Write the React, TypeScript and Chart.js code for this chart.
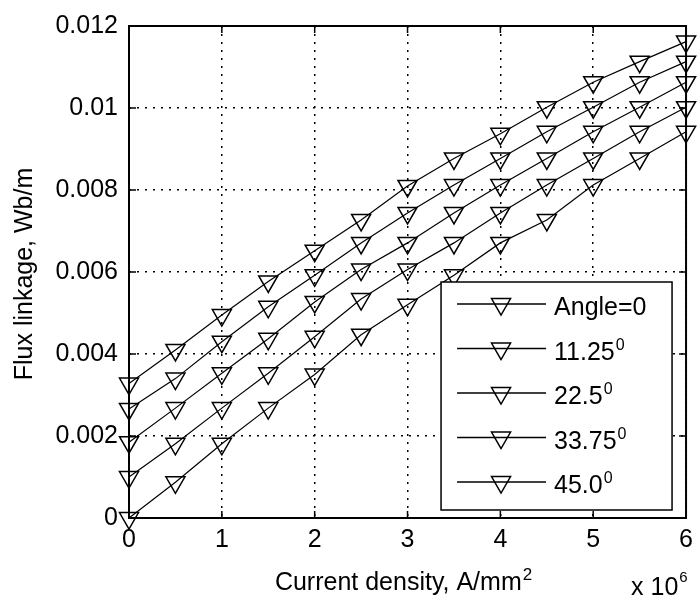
import React, { useEffect, useRef } from "react";
import { Chart, registerables } from "chart.js";

Chart.register(...registerables);

// Current density (x 10^6 A/mm^2)
const currentDensity = [0, 0.5, 1, 1.5, 2, 2.5, 3, 3.5, 4, 4.5, 5, 5.5, 6];

// Flux linkage (Wb/m) per rotor angle
const angle0 = [0.00328, 0.0041, 0.00495, 0.00577, 0.00652, 0.00727, 0.0081, 0.00877, 0.00937, 0.01002, 0.01063, 0.01113, 0.01162];
const angle11_25 = [0.00266, 0.0034, 0.0043, 0.00515, 0.00592, 0.00671, 0.00744, 0.00812, 0.00877, 0.00942, 0.01002, 0.01063, 0.01113];
const angle22_5 = [0.00185, 0.00268, 0.00353, 0.00437, 0.00527, 0.00606, 0.00671, 0.00744, 0.00812, 0.00877, 0.00942, 0.01002, 0.01063];
const angle33_75 = [0.001, 0.00181, 0.00268, 0.00353, 0.00442, 0.00534, 0.00606, 0.00671, 0.00744, 0.00812, 0.00877, 0.00942, 0.01002];
const angle45 = [0, 0.00087, 0.00181, 0.00268, 0.0035, 0.00447, 0.0052, 0.00592, 0.00671, 0.00727, 0.00812, 0.00877, 0.00942];

const seriesValues = [angle0, angle11_25, angle22_5, angle33_75, angle45];
const legendBase = ["Angle=0", "11.25", "22.5", "33.75", "45.0"];
const legendSup = ["", "0", "0", "0", "0"];

const yTitle = "Flux linkage, Wb/m";
const xTitleBase = "Current density, A/mm";
const xTitleSup = "2";
const xExpBase = "x 10";
const xExpSup = "6";

const FONT = "'Liberation Sans', Arial, Helvetica, sans-serif";

function drawTriangle(ctx: CanvasRenderingContext2D, x: number, y: number, r: number) {
  // downward triangle, circumradius r (same geometry as Chart.js 'triangle' rotated 180)
  ctx.beginPath();
  let rad = Math.PI;
  const step = (2 * Math.PI) / 3;
  ctx.moveTo(x + Math.sin(rad) * r, y - Math.cos(rad) * r);
  rad += step;
  ctx.lineTo(x + Math.sin(rad) * r, y - Math.cos(rad) * r);
  rad += step;
  ctx.lineTo(x + Math.sin(rad) * r, y - Math.cos(rad) * r);
  ctx.closePath();
  ctx.stroke();
}

const matlabPlugin = {
  id: "matlabDecor",
  afterDraw(chart: any) {
    const ctx: CanvasRenderingContext2D = chart.ctx;
    const { left, right, top, bottom } = chart.chartArea;
    const xs = chart.scales.x;
    const ys = chart.scales.y;
    ctx.save();
    ctx.strokeStyle = "#000";
    ctx.fillStyle = "#000";
    ctx.setLineDash([]);

    // inward ticks on all sides
    ctx.lineWidth = 1.5;
    const tl = 7;
    xs.ticks.forEach((t: any) => {
      const px = xs.getPixelForValue(t.value);
      ctx.beginPath();
      ctx.moveTo(px, bottom);
      ctx.lineTo(px, bottom - tl);
      ctx.moveTo(px, top);
      ctx.lineTo(px, top + tl);
      ctx.stroke();
    });
    ys.ticks.forEach((t: any) => {
      const py = ys.getPixelForValue(t.value);
      ctx.beginPath();
      ctx.moveTo(left, py);
      ctx.lineTo(left + tl, py);
      ctx.moveTo(right, py);
      ctx.lineTo(right - tl, py);
      ctx.stroke();
    });

    // axes box
    ctx.lineWidth = 2;
    ctx.strokeRect(left, top, right - left, bottom - top);

    // legend
    const bl = right - 245;
    const br = right - 14;
    const bt = bottom - 236;
    const bb = bottom - 8;
    ctx.fillStyle = "#fff";
    ctx.fillRect(bl, bt, br - bl, bb - bt);
    ctx.lineWidth = 1.5;
    ctx.strokeRect(bl, bt, br - bl, bb - bt);
    ctx.fillStyle = "#000";
    chart.data.datasets.forEach((ds: any, i: number) => {
      const ry = bt + 22 + i * 44.5;
      ctx.lineWidth = 1.5;
      ctx.beginPath();
      ctx.moveTo(bl + 16, ry);
      ctx.lineTo(bl + 105, ry);
      ctx.stroke();
      drawTriangle(ctx, bl + 60, ry, 11);
      ctx.font = `25px ${FONT}`;
      ctx.textAlign = "left";
      ctx.textBaseline = "alphabetic";
      const base = legendBase[i];
      ctx.fillText(base, bl + 113, ry + 11);
      const w = ctx.measureText(base).width;
      if (legendSup[i]) {
        ctx.font = `16px ${FONT}`;
        ctx.fillText(legendSup[i], bl + 113 + w + 1, ry + 1);
      }
    });

    // y title
    ctx.save();
    ctx.font = `25px ${FONT}`;
    ctx.textAlign = "center";
    ctx.textBaseline = "alphabetic";
    ctx.translate(32, (top + bottom) / 2 + 2);
    ctx.rotate(-Math.PI / 2);
    ctx.fillText(yTitle, 0, 0);
    ctx.restore();

    // x title with superscript
    ctx.font = `25px ${FONT}`;
    ctx.textAlign = "left";
    ctx.textBaseline = "alphabetic";
    const wb = ctx.measureText(xTitleBase).width;
    ctx.font = `17px ${FONT}`;
    const ws = ctx.measureText(xTitleSup).width;
    const cx = (left + right) / 2 - 4;
    const sx = cx - (wb + ws + 1) / 2;
    ctx.font = `25px ${FONT}`;
    ctx.fillText(xTitleBase, sx, bottom + 72);
    ctx.font = `17px ${FONT}`;
    ctx.fillText(xTitleSup, sx + wb + 1, bottom + 62);

    // x exponent
    ctx.font = `25px ${FONT}`;
    ctx.fillText(xExpBase, right - 55, bottom + 77);
    const we = ctx.measureText(xExpBase).width;
    ctx.font = `15px ${FONT}`;
    ctx.fillText(xExpSup, right - 55 + we + 1, bottom + 64);

    ctx.restore();
  },
};

export default function App() {
  const canvasRef = useRef<HTMLCanvasElement | null>(null);

  useEffect(() => {
    const canvas = canvasRef.current;
    if (!canvas) return;
    const datasets = seriesValues.map((vals, i) => ({
      label: legendBase[i] + legendSup[i],
      data: currentDensity.map((x, j) => ({ x, y: vals[j] })),
      borderColor: "#000",
      borderWidth: 1.2,
      pointStyle: "triangle" as const,
      pointRotation: 180,
      pointRadius: 11,
      pointBorderWidth: 1.5,
      pointBorderColor: "#000",
      pointBackgroundColor: "rgba(0,0,0,0)",
      tension: 0,
      fill: false,
      clip: false as any,
    }));

    const chart = new Chart(canvas, {
      type: "line",
      data: { datasets },
      options: {
        animation: false,
        responsive: false,
        devicePixelRatio: 1,
        events: [],
        layout: { padding: { top: 21, right: 8, left: 0, bottom: 0 } },
        plugins: {
          legend: { display: false },
          tooltip: { enabled: false },
          title: { display: false },
        },
        scales: {
          x: {
            type: "linear",
            min: 0,
            max: 6,
            ticks: {
              stepSize: 1,
              color: "#000",
              padding: 7,
              font: { family: FONT, size: 25 },
              callback: (v: any) => String(v),
            },
            grid: { color: "#000", lineWidth: 1.5, drawTicks: false },
            border: { display: false, dash: [2, 6] },
            afterFit: (s: any) => {
              s.height = 83;
            },
          },
          y: {
            type: "linear",
            min: 0,
            max: 0.012,
            ticks: {
              stepSize: 0.002,
              color: "#000",
              padding: 11,
              font: { family: FONT, size: 25 },
              callback: (v: any) => (Number(v) === 0 ? "0" : String(+Number(v).toFixed(3))),
            },
            grid: { color: "#000", lineWidth: 1.5, drawTicks: false },
            border: { display: false, dash: [2, 6] },
            afterFit: (s: any) => {
              s.width = 129;
            },
          },
        },
      },
      plugins: [matlabPlugin],
    });
    return () => chart.destroy();
  }, []);

  return (
    <div style={{ position: "fixed", left: 0, top: 0, width: 700, height: 601, background: "#fff" }}>
      <canvas ref={canvasRef} width={700} height={601} style={{ display: "block" }} />
    </div>
  );
}
